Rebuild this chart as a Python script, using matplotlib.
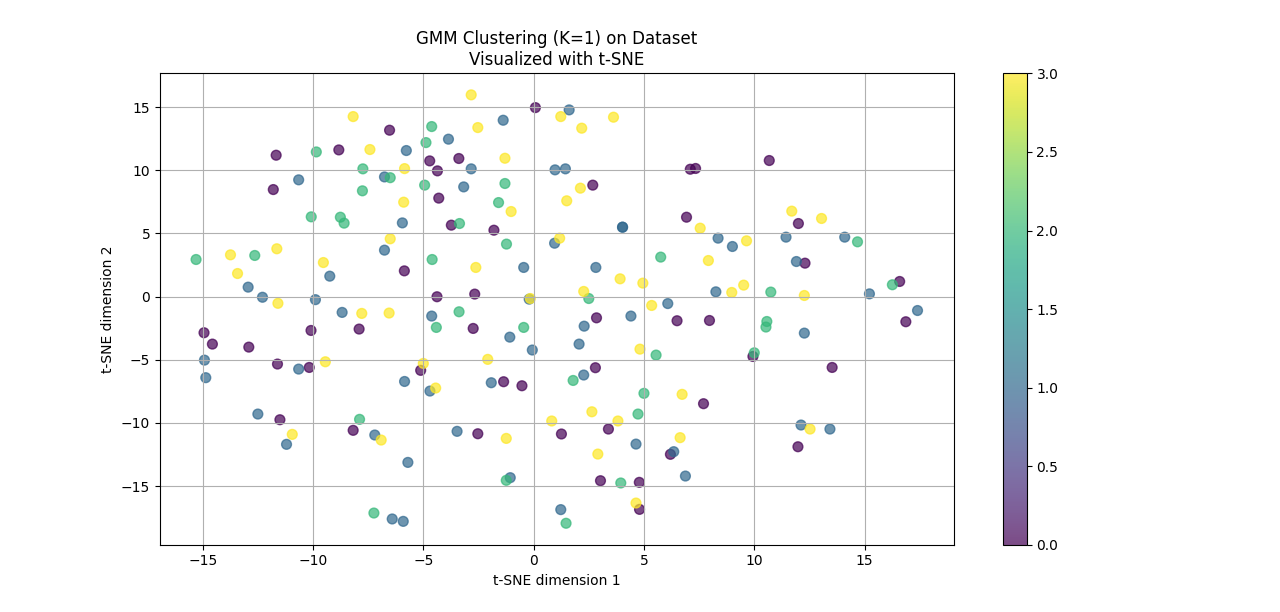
import matplotlib
matplotlib.use("Agg")
import matplotlib.pyplot as plt
import numpy as np

# cluster 0 (purple)
c0_x = [-6.53, -11.67, -8.83, -4.71, -11.8, -5.86, 0.08, -3.39, -4.36, 7.1, 7.34, 2.68, -4.3, 6.93,
        -3.73, -1.8, -4.38, -2.67, 10.68, 12.0, 12.3, 16.59, -14.94, -14.56, -12.91, -10.09, -7.91,
        -11.61, -10.17, -5.12, -11.5, -8.18, -2.74, 2.85, 6.5, -1.36, -0.53, 2.8, -2.53, 1.26, 3.39,
        6.2, 3.03, 4.79, 4.8, 7.97, 16.87, 9.94, 13.53, 7.7, 11.98]
c0_y = [13.18, 11.2, 11.62, 10.75, 8.48, 2.04, 14.97, 10.94, 9.96, 10.09, 10.15, 8.83, 7.8, 6.29,
        5.66, 5.26, -0.01, 0.2, 10.78, 5.79, 2.65, 1.2, -2.86, -3.76, -4.0, -2.68, -2.57,
        -5.34, -5.61, -5.84, -9.75, -10.59, -2.52, -1.68, -1.91, -6.74, -7.06, -5.63, -10.86, -10.88, -10.49,
        -12.49, -14.58, -14.71, -16.85, -1.89, -1.99, -4.74, -5.61, -8.48, -11.89]

# cluster 1 (blue)
c1_x = [-5.77, -10.65, -6.76, -5.95, -6.76, -9.24, -12.94, -12.29, -9.89, -8.68, 1.61, -1.38, -3.86,
        -2.83, 0.97, 1.44, -3.17, 4.03, 4.03, 0.95, -0.45, 2.82, -0.2, 6.08, -4.62, 8.36, 9.01, 11.44,
        14.1, 11.91, 8.26, 15.22, 17.4, -14.92, -14.86, -10.65, -5.85, -4.7, -12.5, -11.2, -7.2, -5.7,
        -6.41, -5.91, -1.08, -0.06, 2.29, 4.41, 2.06, -1.92, 2.27, -3.47, 4.64, 6.35, 6.88, -1.06, 1.23,
        12.27, 12.12, 13.43]
c1_y = [11.57, 9.25, 9.48, 5.84, 3.68, 1.62, 0.75, -0.05, -0.24, -1.25, 14.79, 13.97, 12.47,
        10.12, 10.04, 10.12, 8.69, 5.5, 5.5, 4.23, 2.31, 2.31, -0.2, -0.55, -1.54, 4.63, 3.97, 4.71,
        4.71, 2.78, 0.38, 0.22, -1.1, -5.03, -6.42, -5.74, -6.72, -7.48, -9.3, -11.7, -10.96, -13.13,
        -17.61, -17.8, -3.21, -4.23, -2.34, -1.54, -3.76, -6.82, -6.21, -10.67, -11.68, -12.28, -14.21, -14.34, -16.87,
        -2.89, -10.17, -10.49]

# cluster 2 (green)
c2_x = [-9.85, -4.88, -4.62, -7.74, -6.5, -4.94, -7.76, -10.08, -8.76, -8.59, -4.6, -15.3, -12.64,
        -1.3, -1.59, -3.36, -1.23, 5.76, 2.5, 14.68, 10.75, 16.26, -7.89, -7.24, -3.38, -4.41, -0.45,
        5.55, 1.79, 5.0, 4.73, -1.24, 3.95, 1.47, 10.57, 10.53, 10.0]
c2_y = [11.46, 12.2, 13.47, 10.12, 9.42, 8.83, 8.38, 6.32, 6.29, 5.82, 2.94, 2.94, 3.26,
        8.96, 7.45, 5.79, 4.16, 3.13, -0.15, 4.34, 0.36, 0.94, -9.72, -17.14, -1.2, -2.44, -2.44,
        -4.63, -6.64, -7.66, -9.3, -14.55, -14.76, -17.95, -1.97, -2.41, -4.45]

# cluster 3 (yellow)
c3_x = [-8.18, -7.42, -5.85, -5.89, -6.5, -13.74, -11.64, -13.42, -9.53, -11.59, -7.79, -6.55,
        -2.83, 1.23, 3.62, -2.53, 2.18, -1.3, 2.12, -1.02, 1.5, 1.18, -2.62, 3.92, 4.95, -0.15, 2.27,
        5.35, 7.55, 11.7, 13.05, 9.65, 7.92, 8.98, 9.52, 12.27, -9.44, -5.0, -10.94, -6.91, 4.82,
        -2.08, -4.44, 6.73, 2.64, 3.82, 0.82, -1.24, 6.64, 2.91, 4.64, 12.53]
c3_y = [14.26, 11.65, 10.14, 7.48, 4.58, 3.31, 3.79, 1.83, 2.7, -0.53, -1.33, -1.3,
        15.98, 14.26, 14.21, 13.39, 13.34, 10.96, 8.59, 6.74, 7.59, 4.63, 2.31, 1.41, 1.07, -0.15, 0.41,
        -0.7, 5.42, 6.77, 6.19, 4.42, 2.86, 0.33, 0.91, 0.09, -5.16, -5.29, -10.91, -11.36, -4.16,
        -4.97, -7.24, -7.74, -9.12, -9.85, -9.85, -11.23, -11.17, -12.47, -16.35, -10.49]

xs = c0_x + c1_x + c2_x + c3_x
ys = c0_y + c1_y + c2_y + c3_y
labels = [0] * len(c0_x) + [1] * len(c1_x) + [2] * len(c2_x) + [3] * len(c3_x)

fig = plt.figure(figsize=(12.8, 6.12), dpi=100)
sc = plt.scatter(xs, ys, c=labels, cmap='viridis', s=50, alpha=0.7)
plt.colorbar(sc)
plt.title("GMM Clustering (K=1) on Dataset\nVisualized with t-SNE")
plt.xlabel("t-SNE dimension 1")
plt.ylabel("t-SNE dimension 2")
plt.grid(True)
plt.savefig("out.png", dpi=100)
